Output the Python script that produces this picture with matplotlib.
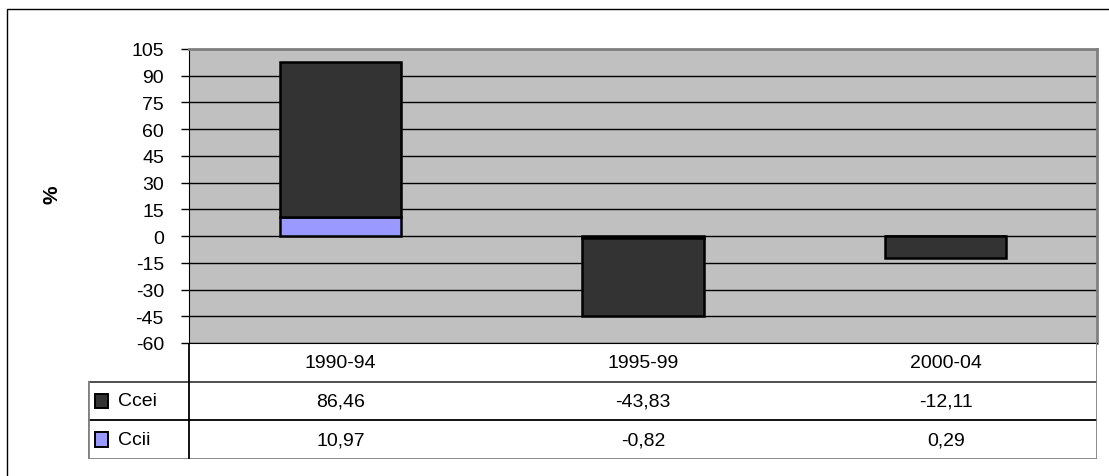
import numpy as np
import matplotlib
matplotlib.use("Agg")
import matplotlib.pyplot as plt
from matplotlib.patches import Rectangle

plt.rcParams['font.family'] = ['Liberation Sans', 'DejaVu Sans']

# data
periods = ['1990-94', '1995-99', '2000-04']
ccei = [86.46, -43.83, -12.11]
ccii = [10.97, -0.82, 0.29]
series_names = ['Ccei', 'Ccii']
series_colors = ['#333333', '#9999FF']
yticks = np.arange(-60, 106, 15)

W, H = 1109, 477
fig = plt.figure(figsize=(W / 100, H / 100), dpi=100)
FS = 14

def box(x0, y0, x1, y1):
    # pixel box (top-left origin) -> figure fraction rect
    return [x0 / W, 1 - y1 / H, (x1 - x0) / W, (y1 - y0) / H]

# outer chart frame (clipped at right / bottom like the original)
fig.patches.append(Rectangle((7 / W, -0.1), 1.2, 1 - 10 / H + 0.1,
                             transform=fig.transFigure, fill=False,
                             edgecolor='black', linewidth=1))

ax = fig.add_axes(box(189, 50, 1097, 344))
ax.set_facecolor('#C0C0C0')
x = np.arange(len(periods))

# stacked bars: positives stack upward, negatives downward
pos_base = np.zeros(len(periods))
neg_base = np.zeros(len(periods))
for vals, c in [(np.array(ccii), series_colors[1]), (np.array(ccei), series_colors[0])]:
    base = np.where(vals >= 0, pos_base, neg_base)
    ax.bar(x, vals, bottom=base, width=0.4, color=c, edgecolor='black',
           linewidth=1.8, zorder=3)
    pos_base = pos_base + np.where(vals >= 0, vals, 0)
    neg_base = neg_base + np.where(vals < 0, vals, 0)

ax.set_xlim(-0.5, 2.5)
ax.set_ylim(-60, 105)
ax.set_yticks(yticks)
ax.set_yticklabels([str(v) for v in yticks], fontsize=FS)
ax.set_xticks([])
ax.yaxis.grid(True, color='black', linewidth=1)
ax.set_axisbelow(True)
ax.tick_params(axis='y', length=6, width=1, color='black', pad=12)
for s in ['top', 'right']:
    ax.spines[s].set_color('#808080')
    ax.spines[s].set_linewidth(2)
ax.spines['left'].set_color('black')
ax.spines['bottom'].set_color('black')
fig.text(52 / W, 1 - 195 / H, '%', rotation=90, ha='center', va='center',
         fontsize=15, fontweight='bold')

# data table below the plot
left_w = (189 - 88) / ((1097 - 189) / 3)
tax = fig.add_axes(box(88, 344, 1097, 460))
tax.set_xlim(-0.5 - left_w, 2.5)
tax.set_ylim(3, 0)
tax.axis('off')
edge_l = -0.5 - left_w
tax.plot([edge_l, 2.5], [1, 1], color='#404040', lw=1.3)
tax.plot([edge_l, 2.5], [2, 2], color='black', lw=1.3)
tax.plot([edge_l, 2.5], [3, 3], color='#808080', lw=2)
tax.plot([edge_l, edge_l], [1, 3], color='#808080', lw=2)
tax.plot([-0.5, -0.5], [0, 3], color='black', lw=1.3)
tax.plot([2.5, 2.5], [0, 3], color='#808080', lw=2)
for i, p in enumerate(periods):
    tax.text(i, 0.5, p, ha='center', va='center', fontsize=FS)
rows = [ccei, ccii]
for r, (name, vals, c) in enumerate(zip(series_names, rows, series_colors)):
    yy = r + 1.5
    tax.add_patch(Rectangle((edge_l + 0.023, yy - 0.19), 0.042, 0.38,
                            facecolor=c, edgecolor='black', lw=1.4))
    tax.text(edge_l + 0.1, yy, name, ha='left', va='center', fontsize=FS)
    for i, v in enumerate(vals):
        tax.text(i, yy, f'{v:.2f}'.replace('.', ','), ha='center',
                 va='center', fontsize=FS)

fig.savefig('out.png', dpi=100)
